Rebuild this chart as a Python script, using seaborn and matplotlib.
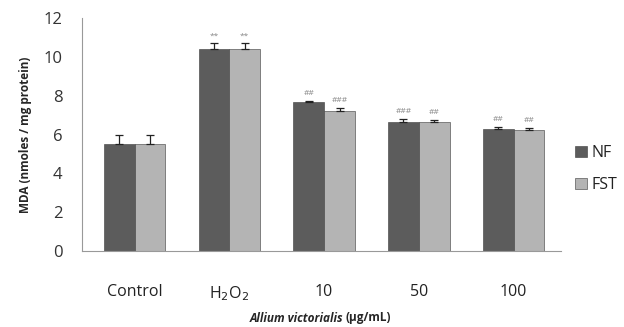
import matplotlib
matplotlib.use("Agg")
import matplotlib.pyplot as plt
import seaborn as sns
import pandas as pd
import numpy as np

categories = ["Control", "H$_2$O$_2$", "10", "50", "100"]
series = ["NF", "FST"]
nf_values = [5.5, 10.4, 7.65, 6.65, 6.3]
fst_values = [5.5, 10.4, 7.2, 6.65, 6.25]
nf_err = [0.5, 0.3, 0.1, 0.15, 0.1]
fst_err = [0.5, 0.3, 0.15, 0.1, 0.08]
nf_marks = ["", "**", "##", "###", "##"]
fst_marks = ["", "**", "###", "##", "##"]
yticks = [0, 2, 4, 6, 8, 10, 12]

df = pd.DataFrame({
    "cat": categories * 2,
    "series": [series[0]] * 5 + [series[1]] * 5,
    "val": nf_values + fst_values,
})

sns.set_style("white")
plt.rcParams['font.family'] = ['Open Sans', 'DejaVu Sans']

fig = plt.figure(figsize=(6.24, 3.27), dpi=100)
ax = fig.add_axes([82/624, 1 - 251/327, (561 - 82)/624, (251 - 18)/327])

colors = {"NF": "#5c5c5c", "FST": "#b4b4b4"}
sns.barplot(data=df, x="cat", y="val", hue="series", order=categories,
            hue_order=series, palette=colors, width=0.65, ax=ax,
            edgecolor="#3a3a3a", linewidth=0.4, legend=True)

patches = [p for p in ax.patches if p.get_height() > 0]
patches = sorted(patches, key=lambda p: p.get_x())
errs = []
marks = []
for i in range(len(categories)):
    errs += [nf_err[i], fst_err[i]]
    marks += [nf_marks[i], fst_marks[i]]
for p, e, m in zip(patches, errs, marks):
    xc = p.get_x() + p.get_width() / 2
    h = p.get_height()
    ax.errorbar([xc], [h], yerr=[[0], [e]], fmt="none", ecolor="#222222",
                elinewidth=0.9, capsize=3, capthick=0.9)
    if m:
        ax.text(xc, h + e + 0.2, m, ha="center", va="bottom", fontsize=6,
                color="#888888")

ax.set_ylim(0, 12)
ax.set_xlim(-0.555, 4.5)
ax.set_yticks(yticks)
ax.set_yticklabels([str(t) for t in yticks], fontsize=12, color="#333333")
ax.tick_params(axis="y", length=0, pad=14)
ax.set_xticks(range(len(categories)))
ax.set_xticklabels(categories, fontsize=11.5, color="#222222")
ax.tick_params(axis="x", length=0, pad=24)
ax.set_xticks(np.arange(-0.5, 5, 1), minor=True)
ax.tick_params(axis="x", which="minor", length=6, color="#999999", width=0.8, direction="out")
for s in ["top", "right"]:
    ax.spines[s].set_visible(False)
for s in ["left", "bottom"]:
    ax.spines[s].set_color("#999999")
    ax.spines[s].set_linewidth(0.8)
ax.set_xlabel("")
ax.set_ylabel("MDA (nmoles / mg protein)", fontsize=8.5, fontweight="bold", labelpad=8)

fig.text(343/624, 1 - 318/327, "Allium victorialis", fontsize=8.5, fontweight="bold",
         style="italic", ha="right", va="center")
fig.text(345/624, 1 - 318/327, "(μg/mL)", fontsize=8.5, fontweight="bold",
         ha="left", va="center")

leg = ax.legend(loc="center left", bbox_to_anchor=(1.0, 0.35), frameon=False,
                fontsize=11.5, handlelength=0.7, handleheight=0.7, handletextpad=0.3,
                labelspacing=1.0)
for t in leg.get_texts():
    t.set_color("#222222")

fig.savefig("out.png", dpi=100)
